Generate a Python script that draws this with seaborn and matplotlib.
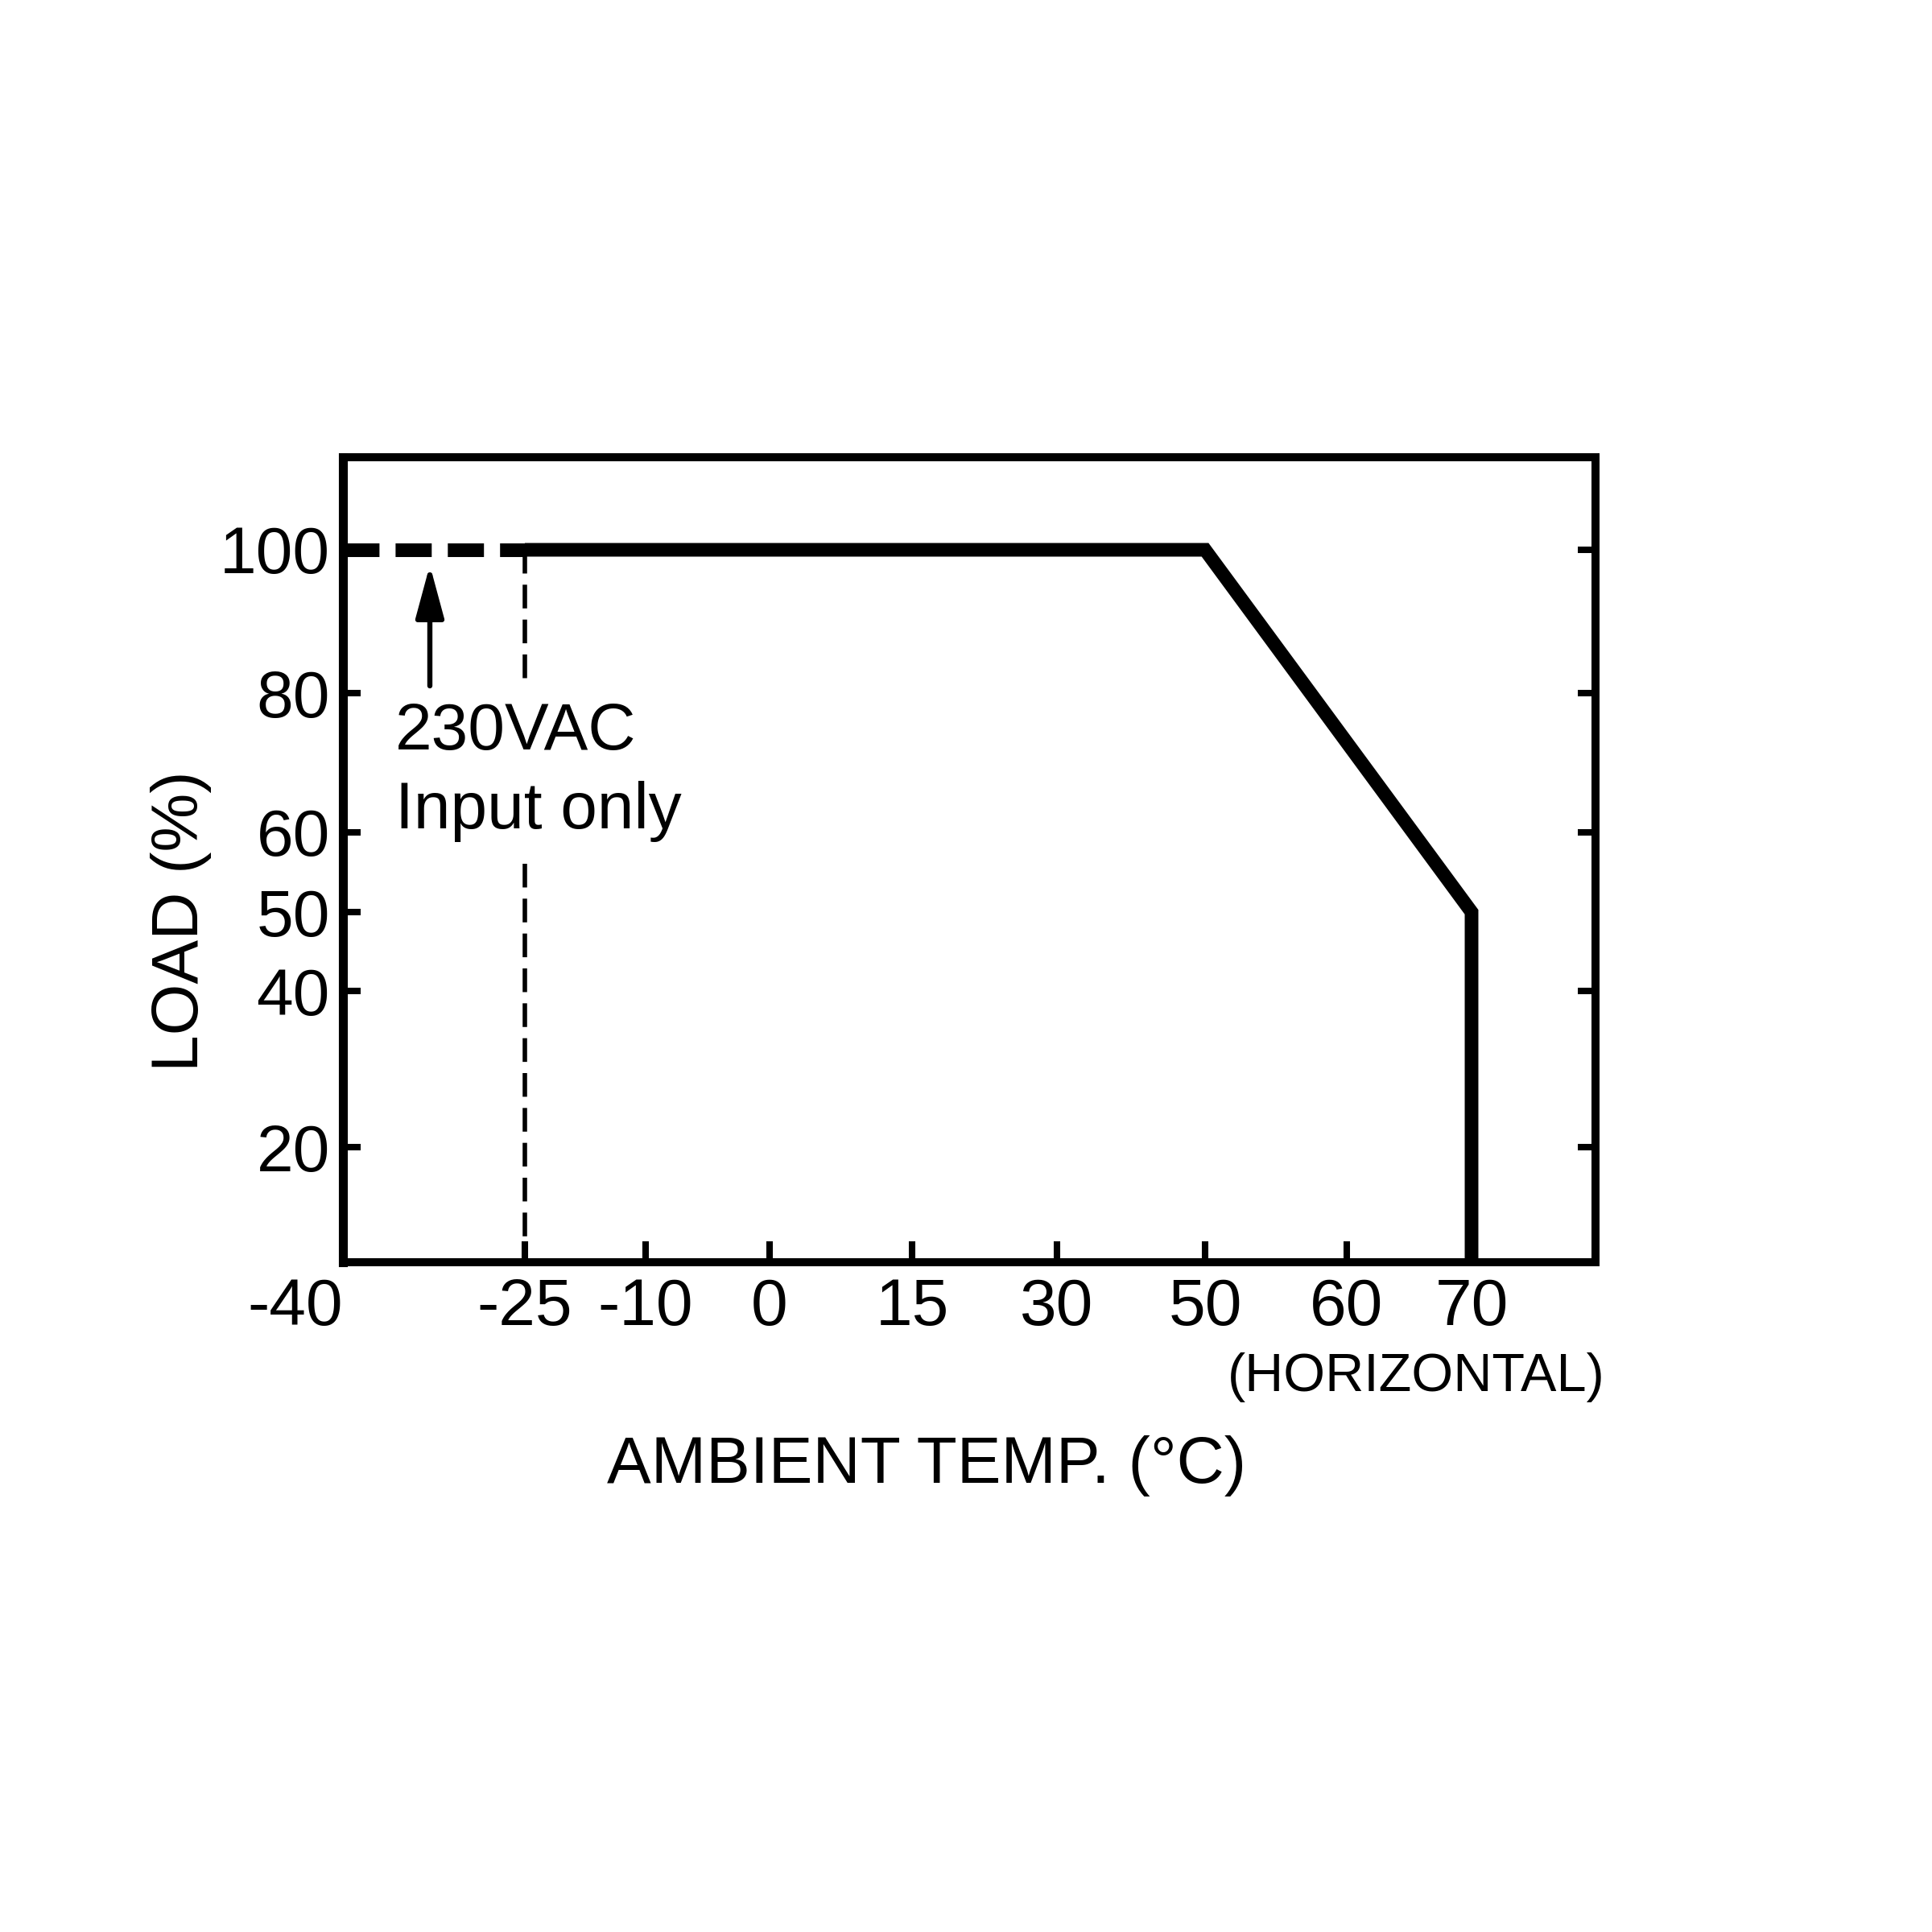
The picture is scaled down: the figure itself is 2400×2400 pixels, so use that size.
import numpy as np
import pandas as pd
import matplotlib
matplotlib.use("Agg")
import matplotlib.pyplot as plt
import seaborn as sns

# ---------------- data ----------------
temp_solid = [-25, 50, 70, 70]
load_solid = [100, 100, 50, 0]
temp_dashed = [-40, -25]
load_dashed = [100, 100]
limit_temp = [-25, -25]
limit_load = [100, 0]

x_ticks = [-40, -25, -10, 0, 15, 30, 50, 60, 70]
x_tick_labels = ["-40", "-25", "-10", "0", "15", "30", "50", "60", "70"]
y_major_ticks = [20, 40, 60, 80, 100]
y_major_labels = ["20", "40", "60", "80", "100"]
y_minor_ticks = [50]
y_minor_labels = ["50"]

note_text = "230VAC\nInput only"
x_title = "AMBIENT TEMP. (\u00b0C)"
y_title = "LOAD (%)"
orient_text = "(HORIZONTAL)"

# ---------------- axis scale (non-uniform spacing as in the datasheet) ----------------
x_scale_vals = np.array([-40, -25, -10, 0, 15, 30, 50, 60, 70, 80], dtype=float)
x_scale_pos = np.array([0, 226, 376, 530, 707, 887, 1071, 1247, 1402, 1556], dtype=float)
y_scale_vals = np.array([0, 20, 40, 50, 60, 80, 100, 113], dtype=float)
y_scale_pos = np.array([0, 143, 337, 435, 534, 707, 885, 1000], dtype=float)


def x_fwd(v):
    return np.interp(v, x_scale_vals, x_scale_pos)


def x_inv(p):
    return np.interp(p, x_scale_pos, x_scale_vals)


def y_fwd(v):
    return np.interp(v, y_scale_vals, y_scale_pos)


def y_inv(p):
    return np.interp(p, y_scale_pos, y_scale_vals)


sns.set_style("white")
plt.rcParams["font.family"] = ["Liberation Sans", "DejaVu Sans"]

FS = 29.5
fig = plt.figure(figsize=(12, 12), dpi=200, facecolor="white")
ax = fig.add_axes([426 / 2400, 1 - 1568 / 2400, 1556 / 2400, 1000 / 2400])

df_solid = pd.DataFrame({"temp": temp_solid, "load": load_solid})
df_dash = pd.DataFrame({"temp": temp_dashed, "load": load_dashed})
df_lim = pd.DataFrame({"temp": limit_temp, "load": limit_load})

# reference line at low temperature limit (thin dashed)
sns.lineplot(data=df_lim, x="temp", y="load", estimator=None, sort=False,
             color="black", linewidth=2.0, linestyle=(0, (5.3, 2.5)),
             ax=ax, zorder=2)
# dashed part of the derating curve (230VAC only)
sns.lineplot(data=df_dash, x="temp", y="load", estimator=None, sort=False,
             color="black", linewidth=6.1, linestyle=(0, (2.65, 1.18)),
             dash_capstyle="butt", ax=ax, zorder=3)
# main derating curve
sns.lineplot(data=df_solid, x="temp", y="load", estimator=None, sort=False,
             color="black", linewidth=6.1, solid_capstyle="butt",
             solid_joinstyle="miter", ax=ax, zorder=3)

ax.set_xscale("function", functions=(x_fwd, x_inv))
ax.set_yscale("function", functions=(y_fwd, y_inv))
ax.set_xlim(-40, 80)
ax.set_ylim(0, 113)

ax.set_xticks(x_ticks, labels=x_tick_labels)
ax.set_yticks(y_major_ticks, labels=y_major_labels)
ax.set_yticks(y_minor_ticks, labels=y_minor_labels, minor=True)
ax.xaxis.set_minor_locator(matplotlib.ticker.NullLocator())

ax.tick_params(axis="x", which="major", direction="in", length=9.5, width=2.9,
               color="black", labelsize=FS, pad=6.8, bottom=True, top=False,
               labelcolor="black")
ax.tick_params(axis="y", which="major", direction="in", length=8, width=2.9,
               color="black", labelsize=FS, pad=5.8, left=True, right=True,
               labelleft=True, labelright=False, labelcolor="black")
ax.tick_params(axis="y", which="minor", direction="in", length=8, width=2.9,
               color="black", labelsize=FS, pad=5.8, left=True, right=False,
               labelleft=True, labelright=False, labelcolor="black")
ax.xaxis.get_major_ticks()[0].label1.set_horizontalalignment("right")

for side, sp in ax.spines.items():
    sp.set_visible(True)
    sp.set_color("black")
    sp.set_linewidth(3.6)
ax.spines["left"].set_linewidth(4.0)
ax.grid(False)

ax.set_xlabel(x_title, fontsize=FS, color="black")
ax.xaxis.set_label_coords(0.466, -0.215)
ax.set_ylabel(y_title, fontsize=FS, color="black")
ax.yaxis.set_label_coords(-0.105, 0.4235)

ax.text(0.857, -0.16, orient_text, transform=ax.transAxes, ha="center",
        va="baseline", fontsize=24, color="black")

ax.text(0.0418, 0.696, note_text, transform=ax.transAxes, ha="left", va="top",
        fontsize=FS, color="black", linespacing=1.37, zorder=4,
        bbox=dict(facecolor="white", edgecolor="none", pad=0.0,
                  boxstyle="square,pad=0.3"))

ax.annotate("", xy=(0.0694, 0.866), xycoords="axes fraction",
            xytext=(0.0694, 0.716), textcoords="axes fraction",
            arrowprops=dict(arrowstyle="-|>,head_length=20,head_width=5.4",
                            mutation_scale=1, lw=2.3, color="black",
                            shrinkA=0, shrinkB=0),
            zorder=5)

fig.savefig("out.png", dpi=200, facecolor="white")
